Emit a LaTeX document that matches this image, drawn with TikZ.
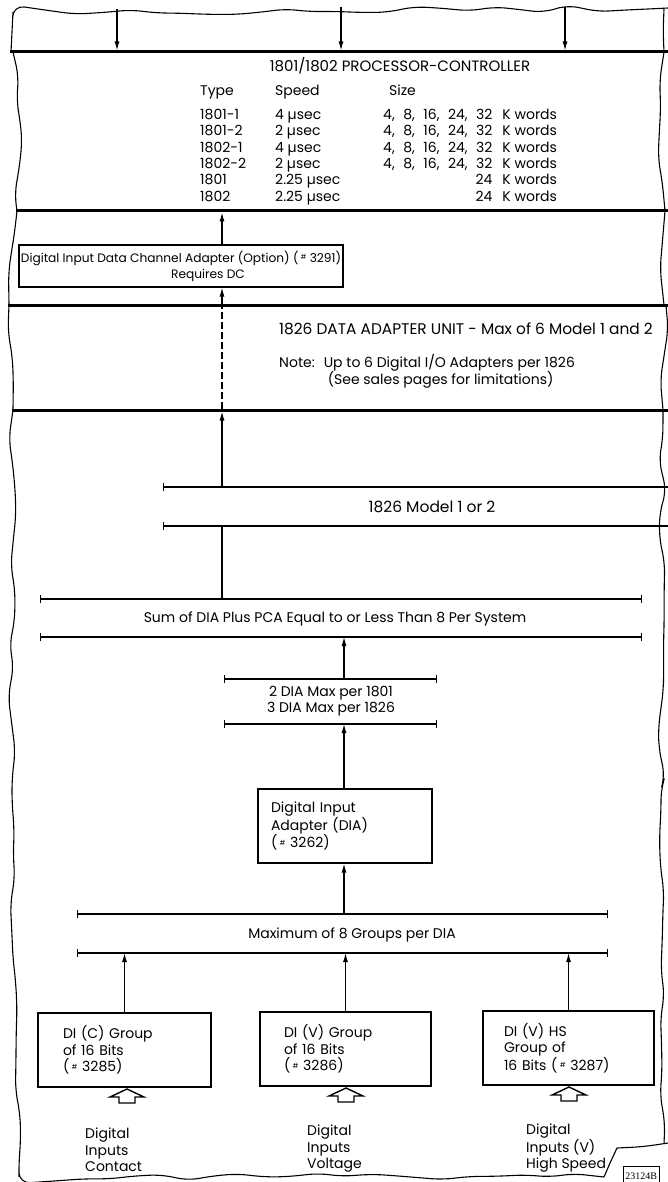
\documentclass[tikz,border=0pt]{standalone}
\usepackage{fontspec}
\setmainfont{Poppins}[Numbers=Monospaced]
\newfontfamily\codefont{Liberation Serif}
\usetikzlibrary{arrows.meta,decorations.pathmorphing}

\newcommand{\hsh}{\raisebox{2.5pt}{\scriptsize\#}}
\newcommand{\gap}{,\hspace{8.5pt}}

\tikzset{
  torn/.style={decorate, decoration={random steps, segment length=26pt, amplitude=4pt}, rounded corners=11pt, line width=1.1pt},
  divider/.style={line width=3pt},
  flow/.style={-{Latex[length=9pt,width=5pt]}, line width=1.1pt},
  limit/.style={{Bar[width=8pt]}-{Bar[width=8pt]}, line width=1.1pt},
  box/.style={draw, line width=1.4pt, align=left, minimum height=74pt},
  lbl/.style={inner sep=0pt, align=left},
  hollow/.style={draw, line width=1.4pt, line join=miter},
}

\begin{document}
\begin{tikzpicture}[x=1pt, y=-1pt, font=\fontsize{14}{16.5}\selectfont]
  \useasboundingbox (0,0) rectangle (668,1182);
  \pgfmathsetseed{23124}

  % torn paper outline
  \draw[torn] (11,52) -- (13,12) -- (668,8);
  \draw[torn] (664,9) -- (664,52);
  \draw[torn] (13,52) -- (21,130) -- (17,211);
  \draw[torn] (664,52) -- (660,120) -- (665,211);
  \draw[torn] (17,211) -- (10,262) -- (9,305);
  \draw[torn] (665,211) -- (661,258) -- (664,305);
  \draw[torn] (9,305) -- (13,410);
  \draw[torn] (666,305) -- (663,410);
  \draw[torn] (13,410) -- (12,790) -- (19,1177) -- (604,1177);
  \draw[torn] (663,410) -- (661,800) -- (664,1144);
  \draw[line width=1.1pt] (604,1177) -- (610,1163) -- (617,1148);
  \draw[torn] (617,1148) -- (668,1143);

  % dividers
  \draw[divider] (10,52) -- (668,52);
  \draw[divider] (16,211) -- (668,211);
  \draw[divider] (8,305) -- (668,305);
  \draw[divider] (12,410) -- (668,410);

  % inputs to the processor
  \coordinate (in1) at (117,9);
  \coordinate (in2) at (341,7);
  \coordinate (in3) at (565,7);
  \coordinate (pc1) at (117,50.5);
  \coordinate (pc2) at (341,50.5);
  \coordinate (pc3) at (565,50.5);
  \draw[flow] (in1) -- (pc1);
  \draw[flow] (in2) -- (pc2);
  \draw[flow] (in3) -- (pc3);

  % processor table
  \node[lbl, font=\fontsize{15}{18}\selectfont] (title) at (400,66) {1801/1802 PROCESSOR-CONTROLLER};
  \node[lbl, anchor=base west, font=\fontsize{14}{16.4}\selectfont] (types) at (200,96) {%
    \begin{tabular}[t]{@{}p{75pt}@{}p{108pt}@{}r@{\hspace{10pt}}l@{}}
    Type & Speed & \multicolumn{1}{l@{\hspace{10pt}}}{Size} & \\[7pt]
    1801-1 & 4 µsec & 4\gap 8\gap 16\gap 24\gap 32 & K words\\
    1801-2 & 2 µsec & 4\gap 8\gap 16\gap 24\gap 32 & K words\\
    1802-1 & 4 µsec & 4\gap 8\gap 16\gap 24\gap 32 & K words\\
    1802-2 & 2 µsec & 4\gap 8\gap 16\gap 24\gap 32 & K words\\
    1801 & 2.25 µsec & 24 & K words\\
    1802 & 2.25 µsec & 24 & K words
    \end{tabular}};

  % data channel adapter
  \node[box, align=center, minimum width=316pt, minimum height=42pt, inner sep=2pt,
        font=\fontsize{12.2}{16}\selectfont] (dc) at (181,266)
    {Digital Input Data Channel Adapter (Option) (\,\hsh\ 3291)\\\hspace*{54pt}Requires DC};
  \coordinate (d2) at (222,212.5);
  \coordinate (d3) at (222,303.5);
  \draw[flow] (dc.north -| d2) -- (d2);
  \draw[flow] (d3) -- (dc.south -| d3);

  % 1826 data adapter unit
  \node[lbl, anchor=west, font=\fontsize{15.4}{18}\selectfont] (dau) at (279,329) {1826 DATA ADAPTER UNIT - Max of 6 Model 1 and 2};
  \node[lbl, anchor=west] (note) at (279,371) {\renewcommand{\arraystretch}{0.8}%
    \begin{tabular}{@{}l@{\hspace{9pt}}l@{}}
    Note: & Up to 6 Digital I/O Adapters per 1826\\
          & \hspace{4pt}(See sales pages for limitations)
    \end{tabular}};
  \coordinate (d4) at (222,306.5);
  \coordinate (d5) at (222,408.5);
  \coordinate (d6) at (222,411.5);
  \draw[line width=1.1pt, dash pattern=on 7pt off 3pt] (d5) -- (d4);

  % 1826 model
  \coordinate (m1) at (163,487);
  \coordinate (m2) at (668,487);
  \coordinate (m3) at (163,526);
  \coordinate (m4) at (668,526);
  \draw[line width=1.1pt, {Bar[width=8pt]}-] (m1) -- (m2);
  \draw[line width=1.1pt, {Bar[width=8pt]}-] (m3) -- (m4);
  \node[lbl, font=\fontsize{15.5}{18}\selectfont] (model) at (432,507) {1826 Model 1 or 2};
  \draw[flow] (m1 -| d6) -- (d6);

  % sum per system
  \coordinate (s1) at (40,599);
  \coordinate (s2) at (642,599);
  \coordinate (s3) at (40,637);
  \coordinate (s4) at (642,637);
  \draw[limit] (s1) -- (s2);
  \draw[limit] (s3) -- (s4);
  \node[lbl] (sum) at (335,619) {Sum of DIA Plus PCA Equal to or Less Than 8 Per System};
  \draw[line width=1.1pt] (s1 -| d6) -- (m3 -| d6);

  % DIA maximum
  \coordinate (mid) at (344,637);
  \coordinate (a1) at (224,679);
  \coordinate (a2) at (437,679);
  \coordinate (a3) at (224,724);
  \coordinate (a4) at (437,724);
  \draw[limit] (a1) -- (a2);
  \draw[limit] (a3) -- (a4);
  \node[lbl, align=center] (dmax) at (331,701) {2 DIA Max per 1801\\3 DIA Max per 1826};
  \draw[flow] (a1 -| mid) -- (mid);

  % digital input adapter
  \node[box, text width=148pt, inner xsep=13pt] (dia) at (345,826) {Digital Input\\Adapter (DIA)\\(\,\hsh\ 3262)};
  \draw[flow] (dia.north -| mid) -- (a3 -| mid);

  % groups per DIA
  \coordinate (g1) at (77,914);
  \coordinate (g2) at (608,914);
  \coordinate (g3) at (77,953);
  \coordinate (g4) at (608,953);
  \draw[limit] (g1) -- (g2);
  \draw[limit] (g3) -- (g4);
  \node[lbl] (grp) at (352,935) {Maximum of 8 Groups per DIA};
  \draw[flow] (g1 -| mid) -- (dia.south -| mid);

  % input groups
  \node[box, text width=123pt, inner xsep=25pt] (dic) at (124.5,1050) {DI (C) Group\\of 16 Bits\\(\,\hsh\ 3285)};
  \node[box, text width=123pt, inner xsep=24pt] (div) at (345.5,1049) {DI (V) Group\\of 16 Bits\\(\,\hsh\ 3286)};
  \node[box, text width=129pt, inner xsep=21pt] (dihs) at (568.5,1048) {DI (V) HS\\Group of\\16 Bits (\,\hsh\ 3287)};
  \draw[flow] (dic.north) -- (dic.north |- g3);
  \draw[flow] (div.north) -- (div.north |- g3);
  \draw[flow] (dihs.north) -- (dihs.north |- g3);

  % hollow input arrows
  \coordinate (h1) at (127,1089);
  \coordinate (h2) at (346,1088);
  \coordinate (h3) at (569,1087);
  \draw[hollow] (h1) -- ++(17,8) -- ++(-9,0) -- ++(0,6) -- ++(-16,0) -- ++(0,-6) -- ++(-9,0) -- cycle;
  \draw[hollow] (h2) -- ++(17,8) -- ++(-9,0) -- ++(0,6) -- ++(-16,0) -- ++(0,-6) -- ++(-9,0) -- cycle;
  \draw[hollow] (h3) -- ++(17,8) -- ++(-9,0) -- ++(0,6) -- ++(-16,0) -- ++(0,-6) -- ++(-9,0) -- cycle;

  % input labels
  \node[lbl, anchor=west] (lc) at (85,1150) {Digital\\Inputs\\Contact};
  \node[lbl, anchor=west] (lv) at (307,1149) {Digital\\Inputs\\Voltage};
  \node[lbl, anchor=west] (lhs) at (526,1148) {Digital\\Inputs (V)\\High Speed};

  % drawing number
  \node[draw, line width=0.8pt, font=\codefont\fontsize{10}{12}\selectfont, inner sep=2pt,
        anchor=north west, minimum height=20pt] (dwg) at (623,1166) {23124B};
\end{tikzpicture}
\end{document}
